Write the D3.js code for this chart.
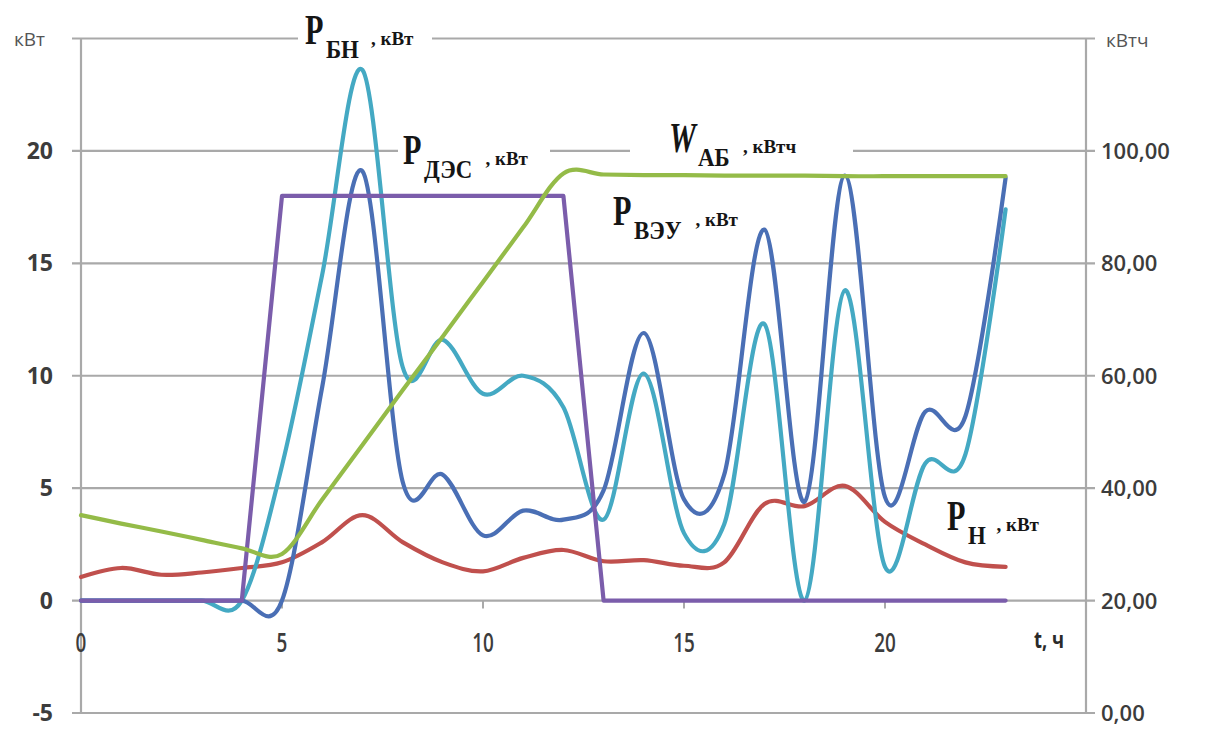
<!DOCTYPE html>
<html>
<head>
<meta charset="utf-8">
<script src="https://cdn.jsdelivr.net/npm/d3@7"></script>
<style>
  body { margin: 0; background: #ffffff; }
  svg { display: block; }
</style>
</head>
<body>
<svg id="chart" width="1207" height="731"></svg>
<script>
// Hourly operating schedule of a hybrid power system (24 h)
const hours = [0, 1, 2, 3, 4, 5, 6, 7, 8, 9, 10, 11, 12, 13, 14, 15, 16, 17, 18, 19, 20, 21, 22, 23];

// Power of the battery converter, kW
const pBN  = [0, 0, 0, 0, 0, 6.0, 14.5, 23.6, 10.4, 11.6, 9.2, 10.0, 8.6, 3.6, 10.1, 3.0, 3.4, 12.3, 0, 13.8, 1.5, 6.1, 6.5, 17.4];
// Wind turbine power, kW
const pVEU = [0, 0, 0, 0, 0, 0, 9.5, 19.1, 5.3, 5.6, 2.9, 4.0, 3.6, 4.9, 11.9, 4.5, 5.6, 16.5, 4.4, 18.9, 4.6, 8.4, 8.2, 18.8];
// Diesel generator power, kW
const pDES = [0, 0, 0, 0, 0, 18, 18, 18, 18, 18, 18, 18, 18, 0, 0, 0, 0, 0, 0, 0, 0, 0, 0, 0];
// Stored battery energy, kWh (secondary axis)
const wAB  = [35.2, 33.7, 32.3, 30.8, 29.3, 28.3, 38.0, 47.7, 57.4, 67.0, 76.7, 86.4, 96.0, 95.8, 95.7, 95.7, 95.6, 95.6, 95.6, 95.5, 95.5, 95.5, 95.5, 95.5];
// Load power, kW
const pN   = [1.05, 1.45, 1.15, 1.25, 1.45, 1.7, 2.6, 3.8, 2.6, 1.7, 1.3, 1.9, 2.25, 1.75, 1.8, 1.55, 1.7, 4.3, 4.2, 5.1, 3.5, 2.5, 1.7, 1.5];

// Axis ticks
const leftTicks  = [-5, 0, 5, 10, 15, 20, 25];
const rightTicks = [0, 20, 40, 60, 80, 100];
const xTicks     = [0, 5, 10, 15, 20];

const svg = d3.select('#chart');

const x  = d3.scaleLinear().domain([0, 25]).range([81, 1086]);
const yL = d3.scaleLinear().domain([-5, 25]).range([713, 38.5]);
const yR = d3.scaleLinear().domain([0, 120]).range([713, 38.5]);

const gridColor = '#a9a9a9';
const tickFont = '"Open Sans", "Liberation Sans", sans-serif';
const labelFont = '"Liberation Serif", "DejaVu Serif", serif';

// Horizontal gridlines (they extend a little past both vertical axes)
svg.append('g').selectAll('line')
  .data(leftTicks)
  .join('line')
  .attr('x1', x(0) - 9).attr('x2', x(25) + 9)
  .attr('y1', d => yL(d)).attr('y2', d => yL(d))
  .attr('stroke', gridColor).attr('stroke-width', 2.2);

// Vertical axis lines
svg.append('line')
  .attr('x1', x(0)).attr('x2', x(0)).attr('y1', yL(25)).attr('y2', yL(-5))
  .attr('stroke', gridColor).attr('stroke-width', 2.2);
svg.append('line')
  .attr('x1', x(25)).attr('x2', x(25)).attr('y1', yL(25)).attr('y2', yL(-5))
  .attr('stroke', gridColor).attr('stroke-width', 2.2);

// Small tick marks under the time axis (drawn at y = 0)
svg.append('g').selectAll('line')
  .data(xTicks.filter(d => d > 0))
  .join('line')
  .attr('x1', d => x(d)).attr('x2', d => x(d))
  .attr('y1', yL(0)).attr('y2', yL(0) + 8)
  .attr('stroke', gridColor).attr('stroke-width', 2);

// Left axis labels
svg.append('g').selectAll('text')
  .data(leftTicks.filter(d => d < 25))
  .join('text')
  .attr('x', 53).attr('y', d => yL(d) + 8)
  .attr('text-anchor', 'end')
  .attr('font-family', tickFont).attr('font-weight', 700).attr('font-size', 23)
  .attr('fill', '#3c3c3c')
  .text(d => d);

svg.append('text')
  .attr('x', 14).attr('y', 46)
  .attr('font-family', tickFont).attr('font-size', 19).attr('fill', '#555')
  .text('кВт');

// Right axis labels
const fmtR = d => d3.format('.2f')(d).replace('.', ',');
svg.append('g').selectAll('text')
  .data(rightTicks)
  .join('text')
  .attr('x', 1101).attr('y', d => yR(d) + 8)
  .attr('font-family', tickFont).attr('font-weight', 600).attr('font-size', 22)
  .attr('fill', '#3c3c3c')
  .text(fmtR);

svg.append('text')
  .attr('x', 1106).attr('y', 47)
  .attr('font-family', tickFont).attr('font-size', 19).attr('fill', '#555')
  .text('кВтч');

// Time axis labels
svg.append('g').selectAll('text')
  .data(xTicks)
  .join('text')
  .attr('transform', d => `translate(${x(d)},${652}) scale(0.7,1)`)
  .attr('text-anchor', 'middle')
  .attr('font-family', tickFont).attr('font-weight', 600).attr('font-size', 27)
  .attr('fill', '#3c3c3c')
  .text(d => d);

svg.append('text')
  .attr('transform', `translate(1034,648) scale(0.8,1)`)
  .attr('font-family', tickFont).attr('font-weight', 700).attr('font-size', 23)
  .attr('fill', '#2a2a2a')
  .text('t, ч');

// Series labels: white backing interrupts the gridlines they sit on
const labelBoxes = [
  [298, 22, 134, 32],
  [398, 136, 152, 30],
  [630, 128, 223, 34]
];
svg.append('g').selectAll('rect')
  .data(labelBoxes)
  .join('rect')
  .attr('x', d => d[0]).attr('y', d => d[1])
  .attr('width', d => d[2]).attr('height', d => d[3])
  .attr('fill', '#ffffff');

// Series lines
const smooth = d3.curveCardinal.tension(0);
function drawSeries(values, yScale, color, curve) {
  const line = d3.line()
    .x((d, i) => x(hours[i]))
    .y(d => yScale(d))
    .curve(curve);
  svg.append('path')
    .datum(values)
    .attr('d', line)
    .attr('fill', 'none')
    .attr('stroke', color)
    .attr('stroke-width', 4.2)
    .attr('stroke-linejoin', 'round')
    .attr('stroke-linecap', 'round');
}

drawSeries(pN,   yL, '#c0504d', smooth);
drawSeries(pBN,  yL, '#44a9c3', smooth);
drawSeries(pVEU, yL, '#4a6fb5', smooth);
drawSeries(pDES, yL, '#7b5dab', d3.curveLinear);
drawSeries(wAB,  yR, '#94bb48', smooth);

// Series name labels
function seriesLabel(px, base, main, sub, unit, italic) {
  const g = svg.append('g').attr('font-family', labelFont).attr('font-weight', 700).attr('fill', '#151515');
  g.append('text')
    .attr('transform', `translate(${px},${base}) scale(0.72,1)`)
    .attr('font-size', 42)
    .attr('font-style', italic ? 'italic' : 'normal')
    .text(main);
  const mainW = italic ? 29 : 21;
  g.append('text')
    .attr('transform', `translate(${px + mainW},${base + 14}) scale(0.88,1)`)
    .attr('font-size', 26)
    .text(sub);
  const subW = sub.length * 16.5 + 12;
  g.append('text')
    .attr('transform', `translate(${px + mainW + subW},${base + 1})`)
    .attr('font-size', 19)
    .text(unit);
}

seriesLabel(305, 44,  'P', 'БН',  ', кВт',  false);
seriesLabel(403, 164, 'P', 'ДЭС', ', кВт',  false);
seriesLabel(669, 152, 'W', 'АБ',  ', кВтч', true);
seriesLabel(613, 225, 'P', 'ВЭУ', ', кВт',  false);
seriesLabel(947, 530, 'P', 'Н',   ', кВт',  false);
</script>
</body>
</html>
